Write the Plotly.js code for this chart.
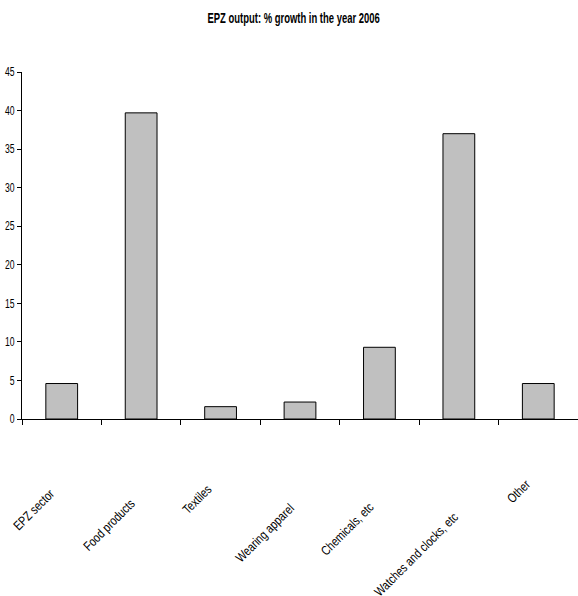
<!DOCTYPE html>
<html>
<head>
<meta charset="utf-8">
<script src="https://cdn.plot.ly/plotly-3.0.1.min.js"></script>
<style>html,body{margin:0;padding:0;background:#fff;}#chart{width:578px;height:596px;}</style>
</head>
<body>
<div id="chart"></div>
<script>
// Data
const categories = ["EPZ sector", "Food products", "Textiles", "Wearing apparel", "Chemicals, etc", "Watches and clocks, etc", "Other"];
const growth = [4.6, 39.7, 1.6, 2.2, 9.3, 37.0, 4.6];
const yTickVals = [0, 5, 10, 15, 20, 25, 30, 35, 40, 45];

// Layout-only: staggered label offsets (pixels) relative to category center / axis baseline
const labelXShift = [-28, -32, -24, -36, -32, -43, -20];
const labelYShift = [-90, -105, -80, -114, -109, -135, -72];

const FONT = "'Liberation Sans', Arial, sans-serif";
// horizontal compression factors to mimic a narrow face
const NARROW_TITLE = 0.63, NARROW_TICK = 0.72, NARROW_LABEL = 0.8;

const trace = {
  type: 'bar',
  x: categories,
  y: growth,
  marker: {color: '#c0c0c0', line: {color: '#000000', width: 1}},
  hoverinfo: 'x+y'
};

const annotations = categories.map((c, i) => ({
  x: c, xref: 'x',
  y: 0, yref: 'paper',
  text: c,
  showarrow: false,
  textangle: -45,
  xanchor: 'center', yanchor: 'middle',
  xshift: labelXShift[i], yshift: labelYShift[i],
  font: {family: FONT, size: 13, color: '#000'}
}));

const layout = {
  width: 578, height: 596,
  margin: {l: 22, r: 0, t: 72, b: 177, pad: 0},
  paper_bgcolor: '#fff', plot_bgcolor: '#fff',
  showlegend: false,
  bargap: 0.6,
  title: {text: 'EPZ output: % growth in the year 2006', x: 0.508, xanchor: 'center', y: 0.971, yanchor: 'middle',
          font: {family: FONT, size: 15, weight: 'bold', color: '#000'}},
  xaxis: {
    type: 'category',
    range: [-0.5, categories.length - 0.5],
    autorange: false,
    showticklabels: false,
    showline: true, linecolor: '#000', linewidth: 1,
    ticks: 'outside', ticklen: 5, tickcolor: '#000', tickwidth: 1,
    tickson: 'boundaries',
    showgrid: false, zeroline: false,
    fixedrange: true
  },
  yaxis: {
    range: [0, 45],
    autorange: false,
    tickvals: yTickVals,
    ticktext: yTickVals.map(String),
    showline: true, linecolor: '#000', linewidth: 1,
    ticks: 'outside', ticklen: 4, tickcolor: '#000', tickwidth: 1,
    showgrid: false, zeroline: false,
    automargin: false,
    tickfont: {family: FONT, size: 12, color: '#000'},
    fixedrange: true
  },
  annotations: annotations
};

function squeeze(selector, factor) {
  document.querySelectorAll(selector).forEach(el => {
    const len = el.getComputedTextLength();
    if (len > 0) {
      el.setAttribute('textLength', (len * factor).toFixed(2));
      el.setAttribute('lengthAdjust', 'spacingAndGlyphs');
    }
  });
}

Plotly.newPlot('chart', [trace], layout, {displayModeBar: false, staticPlot: true}).then(() => {
  squeeze('#chart .gtitle', NARROW_TITLE);
  squeeze('#chart .ytick text', NARROW_TICK);
  squeeze('#chart .annotation-text', NARROW_LABEL);
});
</script>
</body>
</html>
